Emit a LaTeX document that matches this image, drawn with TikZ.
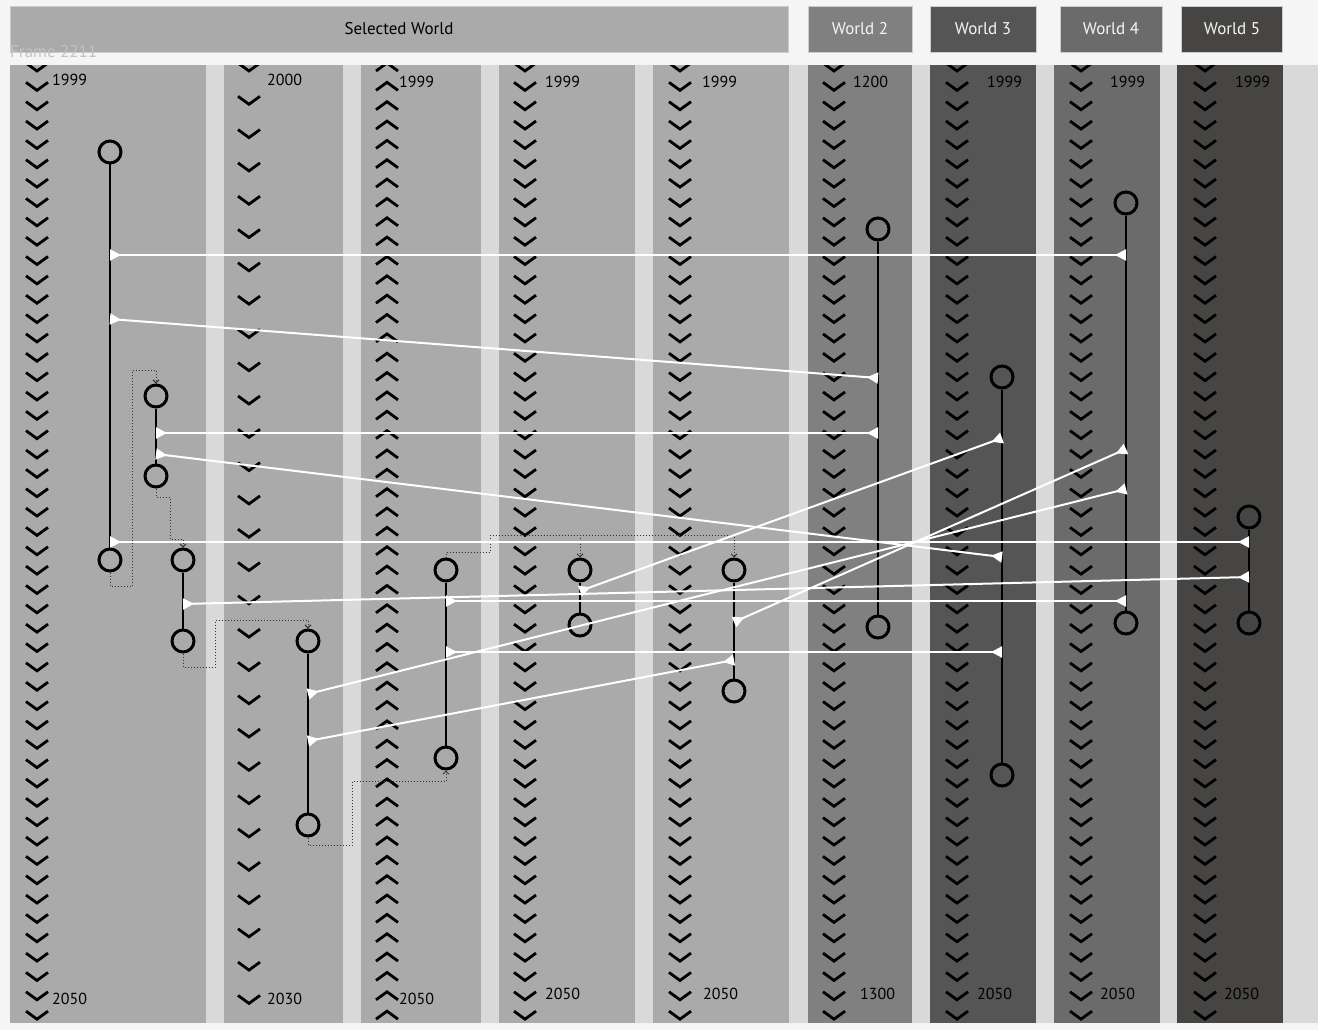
\documentclass[tikz,border=0pt]{standalone}
\usepackage{fontspec}
\setmainfont{PT Sans}
\usetikzlibrary{arrows.meta}
\definecolor{pagebg}{HTML}{F5F5F5}
\definecolor{gapbg}{HTML}{D9D9D9}
\definecolor{selcol}{HTML}{AAAAAA}
\definecolor{wtwo}{HTML}{808080}
\definecolor{wthree}{HTML}{555555}
\definecolor{wfour}{HTML}{6B6B6B}
\definecolor{wfive}{HTML}{464543}
\definecolor{framegray}{HTML}{C2C2C2}
\begin{document}
\begin{tikzpicture}[x=1pt,y=-1pt,
  ev/.style={circle,draw,line width=3pt,minimum size=22pt,inner sep=0pt},
  life/.style={line width=2pt},
  link/.style={white,line width=2pt,
    {Triangle[reversed,length=11pt,width=11pt]}-{Triangle[reversed,length=11pt,width=11pt]}},
  hop/.style={black!80,line width=1pt,dotted,-{Straight Barb[length=3pt,width=6pt]}},
  chev/.style={line width=2.8pt},
  yr/.style={anchor=west,inner sep=0pt,font=\fontsize{16}{19}\selectfont},
  hdr/.style={draw=black!20,line width=0.8pt,minimum height=46pt,inner sep=0pt,
    font=\fontsize{17}{20}\selectfont}]
  \useasboundingbox (0,0) rectangle (1318,1030);
  % background
  \fill[pagebg] (0,0) rectangle (1318,1030);
  \fill[gapbg] (10,65) rectangle (1318,1023);
  % columns
  \foreach \xa/\xb/\cc in {10/206/selcol,224/343/selcol,361/481/selcol,499/635/selcol,
      653/789/selcol,808/912/wtwo,930/1036/wthree,1054/1160/wfour,1177/1283/wfive}
    \fill[\cc] (\xa,65) rectangle (\xb,1023);
  % chevrons
  \begin{scope}
    \clip (0,65) rectangle (1318,1023);
    \foreach \cx in {37,525,680,834,957,1081,1205}{
      \foreach \k in {0,...,49}{
        \pgfmathsetmacro\yy{67+19.35*\k}
        \draw[chev] (\cx-11,\yy-4) -- (\cx,\yy+4) -- (\cx+11,\yy-4);
      }
    }
    \foreach \k in {0,...,49}{
      \pgfmathsetmacro\yy{67+19.35*\k}
      \draw[chev] (376,\yy+4) -- (387,\yy-4) -- (398,\yy+4);
    }
    \foreach \k in {0,...,28}{
      \pgfmathsetmacro\yy{67+33.3*\k}
      \draw[chev] (238,\yy-4) -- (249,\yy+4) -- (260,\yy-4);
    }
  \end{scope}
  % year labels
  \node[yr] (s1) at (52,80) {1999};   \node[yr] (e1) at (52,999) {2050};
  \node[yr] (s2) at (267,80) {2000};  \node[yr] (e2) at (267,999) {2030};
  \node[yr] (s3) at (399,82) {1999};  \node[yr] (e3) at (399,999) {2050};
  \node[yr] (s4) at (545,82) {1999};  \node[yr] (e4) at (545,994) {2050};
  \node[yr] (s5) at (702,82) {1999};  \node[yr] (e5) at (703,994) {2050};
  \node[yr] (s6) at (853,82) {1200};  \node[yr] (e6) at (860,994) {1300};
  \node[yr] (s7) at (987,82) {1999};  \node[yr] (e7) at (977,994) {2050};
  \node[yr] (s8) at (1110,82) {1999}; \node[yr] (e8) at (1100,994) {2050};
  \node[yr] (s9) at (1235,82) {1999}; \node[yr] (e9) at (1224,994) {2050};
  % header
  \fill[pagebg] (0,0) rectangle (1318,65);
  \node[hdr,fill=selcol,minimum width=778pt] (sel) at (399,29) {Selected World};
  \node[hdr,fill=wtwo,text=pagebg,minimum width=104pt] (w2) at (860,29) {World 2};
  \node[hdr,fill=wthree,text=pagebg,minimum width=106pt] (w3) at (983,29) {World 3};
  \node[hdr,fill=wfour,text=pagebg,minimum width=102pt] (w4) at (1111,29) {World 4};
  \node[hdr,fill=wfive,text=pagebg,minimum width=101pt] (w5) at (1232,29) {World 5};
  \node[anchor=base west,inner sep=0pt,text=framegray,font=\fontsize{17}{20}\selectfont]
    (frame) at (10,58) {Frame 2211};
  % events
  \node[ev] (A1) at (110,152) {};  \node[ev] (A2) at (110,560) {};
  \node[ev] (B1) at (156,396) {};  \node[ev] (B2) at (156,476) {};
  \node[ev] (C1) at (183,560) {};  \node[ev] (C2) at (183,641) {};
  \node[ev] (D1) at (308,641) {};  \node[ev] (D2) at (308,825) {};
  \node[ev] (E1) at (446,570) {};  \node[ev] (E2) at (446,758) {};
  \node[ev] (F1) at (580,570) {};  \node[ev] (F2) at (580,625) {};
  \node[ev] (G1) at (734,570) {};  \node[ev] (G2) at (734,691) {};
  \node[ev] (H1) at (878,229) {};  \node[ev] (H2) at (878,627) {};
  \node[ev] (I1) at (1002,377) {}; \node[ev] (I2) at (1002,775) {};
  \node[ev] (J1) at (1126,203) {}; \node[ev] (J2) at (1126,623) {};
  \node[ev] (K1) at (1249,517) {}; \node[ev] (K2) at (1249,623) {};
  \foreach \p in {A,B,C,D,E,F,G,H,I,J,K}
    \draw[life] (\p1) -- (\p2);
  % hops
  \draw[hop] (A2.south) |- (132,586) |- (156,370) -- (B1.north);
  \draw[hop] (B2.south) |- (170,497) |- (183,539) -- (C1.north);
  \draw[hop] (C2.south) |- (215,667) |- (308,620) -- (D1.north);
  \draw[hop] (D2.south) |- (352,845) |- (446,781) -- (E2.south);
  \draw[hop] (E1.north) |- (490,552) |- (734,535) -- (G1.north);
  \draw[hop] (E1.north) |- (490,552) |- (580,535) -- (F1.north);
  % links
  \draw[link] (A1 |- 0,255) -- (J1 |- 0,255);
  \draw[link] (A1 |- 0,319) -- (H1 |- 0,378);
  \draw[link] (B1 |- 0,433) -- (H1 |- 0,433);
  \draw[link] (B1 |- 0,454) -- (I1 |- 0,557);
  \draw[link] (A1 |- 0,542) -- (K1 |- 0,542);
  \draw[link] (C1 |- 0,604) -- (K1 |- 0,577);
  \draw[link] (E1 |- 0,601) -- (J1 |- 0,601);
  \draw[link] (F1 |- 0,591) -- (I1 |- 0,438);
  \draw[link] (E1 |- 0,652) -- (I1 |- 0,652);
  \draw[link] (D1 |- 0,694) -- (J1 |- 0,489);
  \draw[link] (D1 |- 0,741) -- (G1 |- 0,660);
  \draw[link] (G1 |- 0,622) -- (J1 |- 0,449);
\end{tikzpicture}
\end{document}
